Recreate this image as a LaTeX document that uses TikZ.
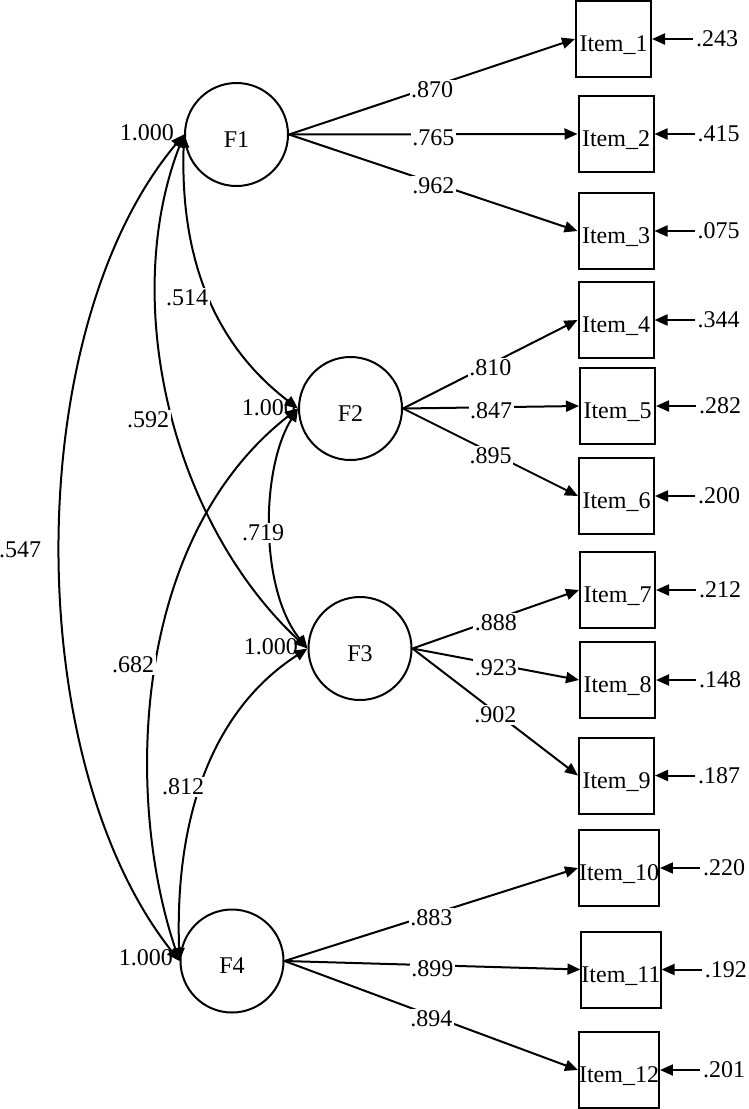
\documentclass[tikz,border=0pt]{standalone}
\usepackage{fontspec}
\setmainfont{Liberation Serif}
\usetikzlibrary{arrows.meta}
\begin{document}
\begin{tikzpicture}[x=1pt,y=-1pt,
  every node/.style={font=\fontsize{24}{28}\selectfont},
  fac/.style={circle,draw,line width=2pt,minimum size=103pt,inner sep=0pt,text height=25pt,text depth=0pt},
  itembox/.style={rectangle,draw,line width=2pt,minimum width=75pt,minimum height=76pt,inner sep=0pt,text height=25pt,text depth=0pt},
  onearrow/.style={-{Triangle[length=13pt,width=11pt]},line width=2pt},
  cov/.style={{Triangle[length=13pt,width=11pt]}-{Triangle[length=13pt,width=11pt]},line width=2pt},
  lab/.style={fill=white,inner sep=1.5pt,yshift=-3pt},
  clab/.style={fill=white,inner sep=1.5pt},
  errlab/.style={anchor=west,inner sep=3pt},
  varlab/.style={anchor=east,inner sep=0pt}
]
\useasboundingbox (0,0) rectangle (749,1109);

% factors
\node[fac] (F1) at (236.5,134.5) {F1};
\node[fac] (F2) at (350.5,408.5) {F2};
\node[fac] (F3) at (360,648.5) {F3};
\node[fac] (F4) at (232,961) {F4};

% items
\node[itembox] (i1) at (613.5,39) {Item\_1};
\node[itembox] (i2) at (616,134) {Item\_2};
\node[itembox] (i3) at (616,231) {Item\_3};
\node[itembox] (i4) at (616,320) {Item\_4};
\node[itembox] (i5) at (617.5,406) {Item\_5};
\node[itembox] (i6) at (616.5,496) {Item\_6};
\node[itembox] (i7) at (617.5,590) {Item\_7};
\node[itembox] (i8) at (617.5,680) {Item\_8};
\node[itembox] (i9) at (616.5,775.5) {Item\_9};
\node[itembox] (i10) at (619,868) {Item\_10};
\node[itembox] (i11) at (621,969.5) {Item\_11};
\node[itembox] (i12) at (619,1070) {Item\_12};

% loadings
\draw[onearrow] (F1.east) -- node[lab] {.870} (i1.west);
\draw[onearrow] (F1.east) -- node[lab] {.765} (i2.west);
\draw[onearrow] (F1.east) -- node[lab] {.962} (i3.west);
\draw[onearrow] (F2.east) -- node[lab] {.810} (i4.west);
\draw[onearrow] (F2.east) -- node[lab] {.847} (i5.west);
\draw[onearrow] (F2.east) -- node[lab] {.895} (i6.west);
\draw[onearrow] (F3.east) -- node[lab] {.888} (i7.west);
\draw[onearrow] (F3.east) -- node[lab] {.923} (i8.west);
\draw[onearrow] (F3.east) -- node[lab] {.902} (i9.west);
\draw[onearrow] (F4.east) -- node[lab] {.883} (i10.west);
\draw[onearrow] (F4.east) -- node[lab] {.899} (i11.west);
\draw[onearrow] (F4.east) -- node[lab] {.894} (i12.west);

% error terms
\node[errlab] (e1) at ([xshift=41pt]i1.east) {.243};
\node[errlab] (e2) at ([xshift=40pt]i2.east) {.415};
\node[errlab] (e3) at ([xshift=40pt]i3.east) {.075};
\node[errlab] (e4) at ([xshift=40pt]i4.east) {.344};
\node[errlab] (e5) at ([xshift=40pt]i5.east) {.282};
\node[errlab] (e6) at ([xshift=40pt]i6.east) {.200};
\node[errlab] (e7) at ([xshift=40pt]i7.east) {.212};
\node[errlab] (e8) at ([xshift=40pt]i8.east) {.148};
\node[errlab] (e9) at ([xshift=40pt]i9.east) {.187};
\node[errlab] (e10) at ([xshift=40pt]i10.east) {.220};
\node[errlab] (e11) at ([xshift=40pt]i11.east) {.192};
\node[errlab] (e12) at ([xshift=40pt]i12.east) {.201};
\foreach \k in {1,...,12}{
  \draw[onearrow] (e\k.west) -- (i\k.east);
}

% covariances
\draw[cov] (F1.west) .. controls (180,260) and (215,345) .. (F2.west);
\draw[cov] (F1.west) .. controls (120,300) and (170,520) .. (F3.west);
\draw[cov] (F1.west) .. controls (20,330) and (20,760) .. (F4.west);
\draw[cov] (F2.west) .. controls (260,470) and (260,590) .. (F3.west);
\draw[cov] (F2.west) .. controls (130,540) and (125,800) .. (F4.west);
\draw[cov] (F3.west) .. controls (205,715) and (175,830) .. (F4.west);

\node[clab] (c12) at (187,298) {.514};
\node[clab] (c13) at (148,420) {.592};
\node[clab] (c14) at (20,550) {.547};
\node[clab] (c23) at (263,533) {.719};
\node[clab] (c24) at (133,665) {.682};
\node[clab] (c34) at (183,787) {.812};

% variances
\node[varlab] (v1) at (174,133) {1.000};
\node[varlab] (v2) at (296,408) {1.000};
\node[varlab] (v3) at (298,647) {1.000};
\node[varlab] (v4) at (173,958) {1.000};
\end{tikzpicture}
\end{document}
